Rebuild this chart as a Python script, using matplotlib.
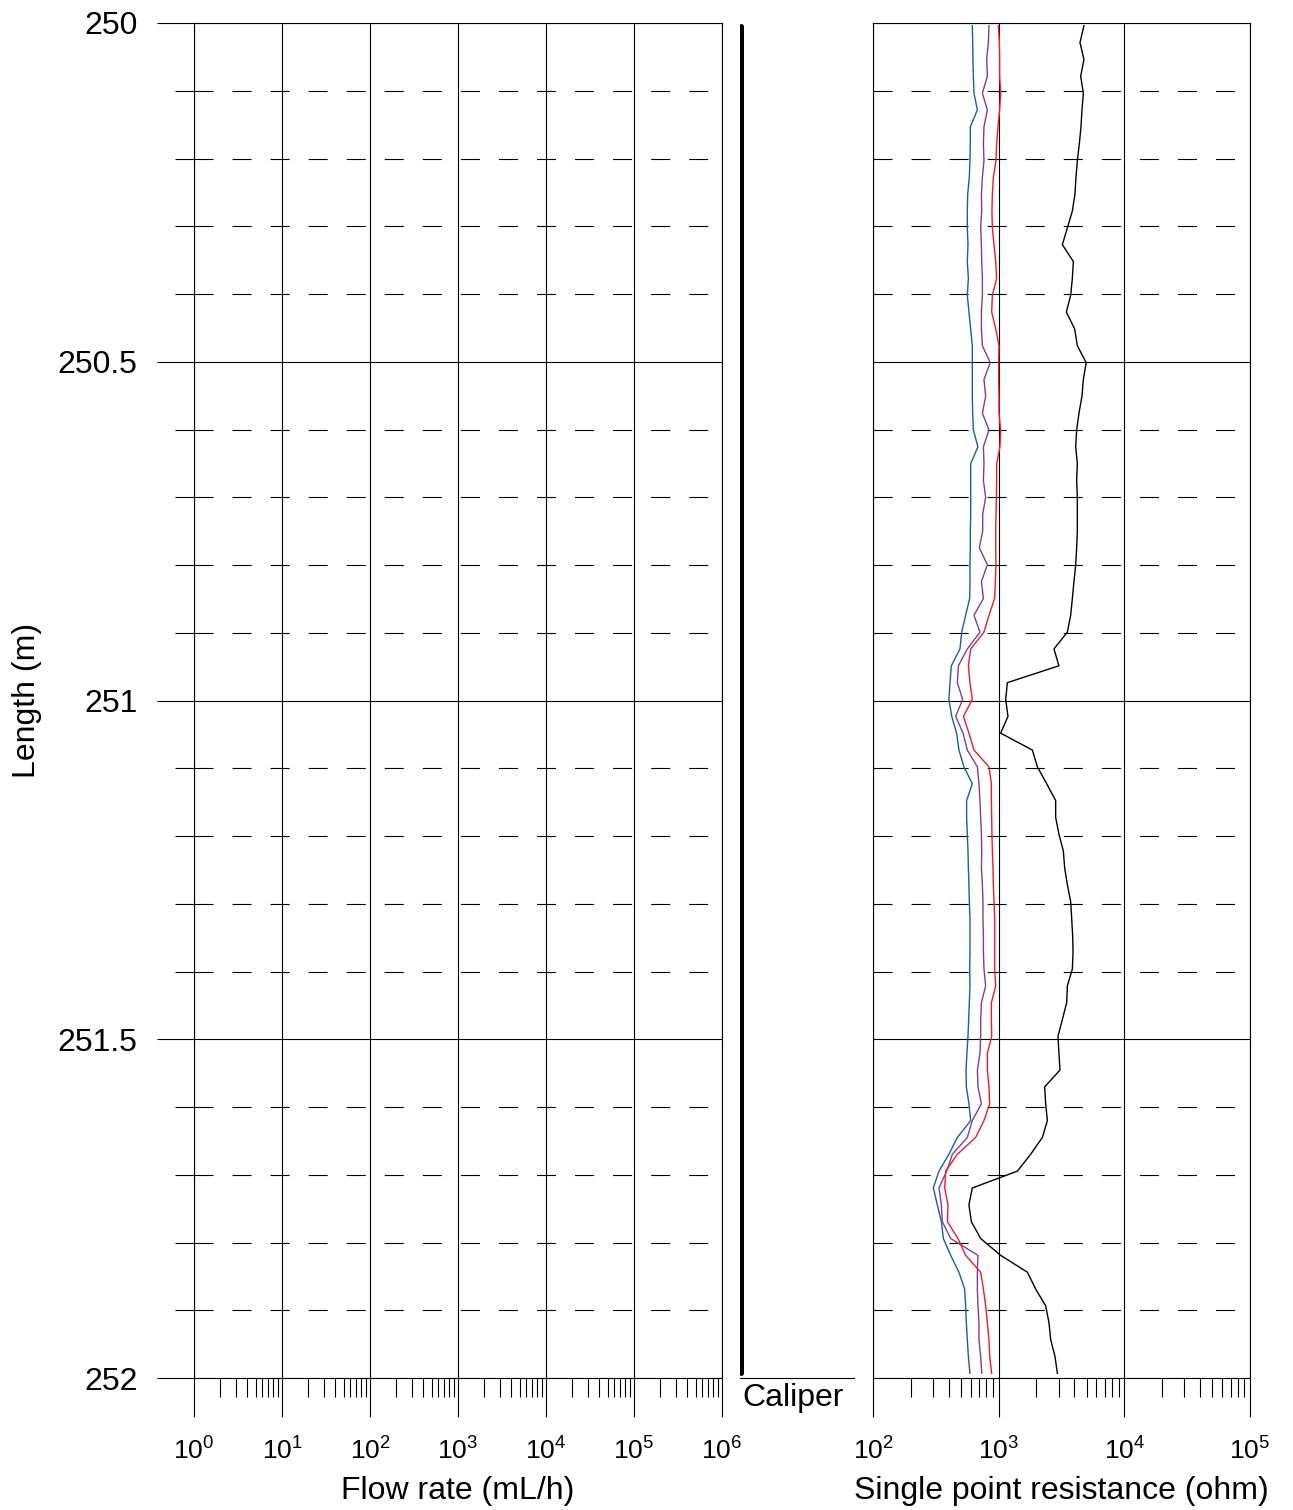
import numpy as np
import matplotlib
matplotlib.use("Agg")
import matplotlib.pyplot as plt
from matplotlib.ticker import LogLocator, FixedLocator, MultipleLocator, NullFormatter

plt.rcParams['font.family'] = ['Liberation Sans', 'DejaVu Sans']
plt.rcParams['mathtext.fontset'] = 'custom'
plt.rcParams['mathtext.rm'] = 'Liberation Sans'
plt.rcParams['mathtext.it'] = 'Liberation Sans:italic'
plt.rcParams['mathtext.default'] = 'regular'
plt.rcParams['lines.scale_dashes'] = False

# depth samples (m) along the borehole
depth = np.linspace(250.004, 251.993, 81)

# single point resistance (ohm), four repeated logs
spr_blue = [617, 621, 624, 629, 636, 677, 595, 595, 591, 584,
            567, 563, 563, 570, 563, 574, 563, 580, 599, 617,
            617, 617, 617, 621, 629, 684, 599, 599, 599, 599,
            595, 595, 591, 591, 588, 546, 508, 492, 420, 410,
            402, 423, 463, 483, 529, 617, 556, 556, 563, 570,
            574, 580, 584, 591, 591, 591, 588, 591, 584, 577,
            570, 559, 550, 553, 580, 599, 469, 402, 335, 302,
            325, 350, 363, 415, 483, 536, 546, 553, 563, 574,
            591]
spr_purple = [837, 828, 803, 813, 742, 813, 764, 756, 764, 742,
              729, 733, 719, 729, 733, 742, 742, 729, 729, 742,
              856, 764, 788, 742, 837, 756, 764, 756, 788, 746,
              746, 702, 813, 729, 756, 636, 710, 563, 478, 469,
              517, 455, 521, 563, 677, 697, 710, 719, 729, 733,
              729, 742, 750, 750, 756, 756, 764, 788, 729, 719,
              719, 710, 677, 684, 729, 617, 563, 428, 386, 335,
              350, 356, 415, 684, 677, 677, 684, 697, 697, 719,
              733]
spr_red = [995, 1013, 1018, 1018, 1037, 1018, 987, 964, 952, 907,
           891, 884, 891, 918, 947, 964, 891, 880, 947, 1006,
           1000, 1000, 1006, 1006, 1037, 1024, 964, 964, 959, 952,
           947, 947, 952, 941, 929, 837, 764, 599, 574, 591,
           617, 524, 580, 636, 837, 875, 875, 880, 884, 891,
           901, 907, 918, 929, 929, 929, 929, 947, 875, 875,
           880, 813, 813, 837, 848, 764, 656, 469, 379, 372,
           395, 391, 474, 546, 719, 756, 788, 813, 837, 848,
           880]
spr_black = [4772, 4436, 4772, 4493, 4720, 4601, 4518, 4386, 4228, 4121,
             4046, 3858, 3521, 3213, 3930, 3858, 3741, 3457, 4024, 4228,
             4969, 4720, 4601, 4355, 4174, 4100, 4228, 4174, 4228, 4228,
             4228, 4174, 4100, 3974, 3858, 3741, 3521, 2754, 3018, 1173,
             1137, 1186, 1037, 1854, 2032, 2410, 2842, 2842, 3018, 3272,
             3351, 3521, 3741, 3810, 3880, 3907, 3858, 3521, 3476, 3213,
             2964, 3018, 3074, 2323, 2366, 2441, 2227, 1797, 1409, 617,
             580, 606, 719, 1037, 1692, 1970, 2366, 2514, 2593, 2805,
             2932]

caliper_depth = [250.004, 251.993]
caliper_value = [76.0, 76.0]

depth_ticks = [250, 250.5, 251, 251.5, 252]
depth_labels = ['250', '250.5', '251', '251.5', '252']

series = [(spr_blue, '#1f5aa8'), (spr_purple, '#7a3e9d'),
          (spr_red, '#ee1c25'), (spr_black, 'black')]

W, H = 1293, 1510
LW = 0.8


def box(x0, x1, y0=23, y1=1378):
    return [x0 / W, 1 - y1 / H, (x1 - x0) / W, (y1 - y0) / H]


def style_log_panel(ax, lo, hi):
    ax.set_xscale('log')
    ax.set_xlim(lo, hi)
    ax.set_ylim(252, 250)
    ax.xaxis.set_major_locator(LogLocator(base=10, numticks=20))
    ax.xaxis.set_minor_locator(LogLocator(base=10, subs=np.arange(2, 10), numticks=20))
    ax.xaxis.set_minor_formatter(NullFormatter())
    ax.tick_params(axis='x', which='major', direction='out', length=28, width=LW, pad=15, labelsize=19)
    ax.tick_params(axis='x', which='minor', direction='out', length=13.5, width=LW)
    ax.yaxis.set_major_locator(FixedLocator(depth_ticks))
    ax.yaxis.set_minor_locator(MultipleLocator(0.1))
    ax.grid(True, which='major', color='black', linewidth=LW, linestyle='-')
    ax.grid(True, which='minor', axis='y', color='black', linewidth=LW, linestyle=(0, (13.7, 13.7)))
    for s in ax.spines.values():
        s.set_linewidth(LW)


fig = plt.figure(figsize=(W / 100, H / 100), dpi=100)

ax_flow = fig.add_axes(box(194, 722))
style_log_panel(ax_flow, 1, 1e6)
ax_flow.set_yticklabels(depth_labels)
ax_flow.tick_params(axis='y', which='major', direction='out', length=26.6, width=LW, pad=14, labelsize=23)
ax_flow.tick_params(axis='y', which='minor', direction='out', length=13.7, width=LW)
ax_flow.set_xlabel('Flow rate (mL/h)', fontsize=23, labelpad=8)
ax_flow.set_ylabel('Length (m)', fontsize=23, labelpad=11)

ax_cal = fig.add_axes(box(740, 854))
ax_cal.set_ylim(252, 250)
ax_cal.set_xlim(75.98, 78)
ax_cal.plot(caliper_value, caliper_depth, color='black', linewidth=3.6, solid_capstyle='round')
for side in ['top', 'left', 'right']:
    ax_cal.spines[side].set_visible(False)
ax_cal.spines['bottom'].set_linewidth(LW)
ax_cal.set_xticks([])
ax_cal.set_yticks([])
ax_cal.set_xlabel('Caliper', fontsize=23)
ax_cal.xaxis.set_label_coords(0.465, -0.004, transform=ax_cal.transAxes)
ax_cal.xaxis.label.set_va('top')

ax_res = fig.add_axes(box(873, 1250))
style_log_panel(ax_res, 1e2, 1e5)
ax_res.tick_params(axis='y', which='both', length=0, labelleft=False)
for values, color in series:
    ax_res.plot(values, depth, color=color, linewidth=1.0)
ax_res.set_xlabel('Single point resistance (ohm)', fontsize=23, labelpad=8)

fig.savefig('out.png', dpi=100)
